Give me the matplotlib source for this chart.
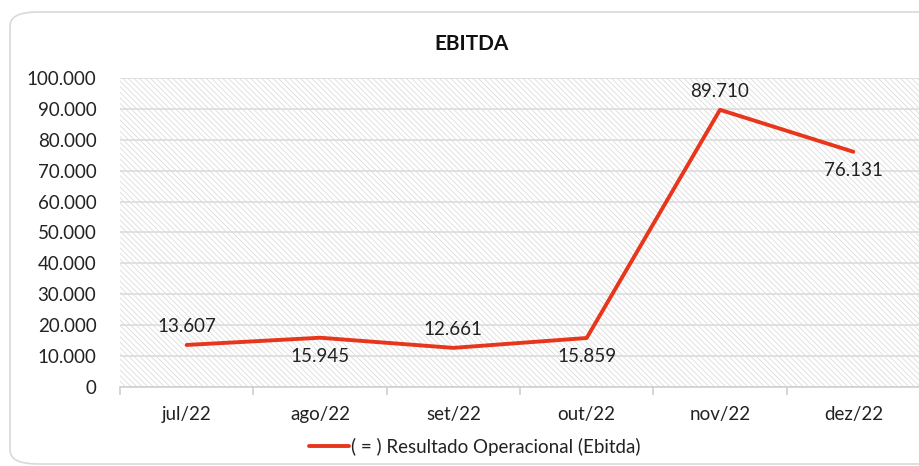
import matplotlib
matplotlib.use("Agg")
import matplotlib.pyplot as plt
from matplotlib.patches import FancyBboxPatch, Rectangle
from matplotlib.ticker import FuncFormatter, FixedLocator

months = ["jul/22", "ago/22", "set/22", "out/22", "nov/22", "dez/22"]
ebitda = [13607, 15945, 12661, 15859, 89710, 76131]
label_pos = ["above", "below", "above", "below", "above", "below"]
series_name = "( = ) Resultado Operacional (Ebitda)"

plt.rcParams['font.family'] = ['Lato', 'DejaVu Sans']
plt.rcParams['hatch.linewidth'] = 0.5

def br(v, pos=None):
    return f"{v:,.0f}".replace(",", ".")

fig = plt.figure(figsize=(9.2, 4.66), dpi=100)

# chart border
fig.patches.append(FancyBboxPatch((10 / 920, 2 / 466), 1.2, 452 / 466,
                                  boxstyle="round,pad=0,rounding_size=0.03",
                                  transform=fig.transFigure, facecolor="none",
                                  edgecolor="#d9d9d9", linewidth=1.2, zorder=-1))

ax = fig.add_axes([120 / 920, 79 / 466, 800 / 920, 309 / 466])
ax.set_facecolor("none")
ax.add_patch(Rectangle((0, 0), 1, 1, transform=ax.transAxes, facecolor="white",
                       edgecolor="#d6d6d6", hatch="\\" * 6, linewidth=0, zorder=0))

x = list(range(len(months)))
ax.plot(x, ebitda, color="#e8361c", linewidth=2.8, solid_capstyle="round", zorder=3,
        label=series_name)

for xi, v, p in zip(x, ebitda, label_pos):
    dy = 18 if p == "above" else -19
    ax.annotate(br(v), (xi, v), xytext=(0, dy), textcoords="offset pixels",
                ha="center", va="center", fontsize=13.5, color="#222222", zorder=4)

ax.set_xlim(-0.5, len(months) - 0.5)
ax.set_ylim(0, 100000)
ax.set_yticks(range(0, 100001, 10000))
ax.yaxis.set_major_formatter(FuncFormatter(br))
ax.set_xticks(x)
ax.set_xticklabels(months)
ax.xaxis.set_minor_locator(FixedLocator([i - 0.5 for i in range(len(months) + 1)]))
ax.grid(axis="y", color="#dcdcdc", linewidth=1.2, zorder=1)
ax.set_axisbelow(True)

for s in ["top", "right", "left"]:
    ax.spines[s].set_visible(False)
ax.spines["bottom"].set_color("#d0d0d0")
ax.spines["bottom"].set_linewidth(1.2)

ax.tick_params(axis="y", length=0, pad=17, labelsize=13.5, labelcolor="#222222")
ax.tick_params(axis="x", which="major", length=0, pad=14, labelsize=13.5, labelcolor="#222222")
ax.tick_params(axis="x", which="minor", length=6, color="#d0d0d0", width=1.2)

fig.text(472 / 920, 1 - 44 / 466, "EBITDA", ha="center", va="center",
         fontsize=15, fontweight="bold", color="#111111")

leg = fig.legend(loc="center", bbox_to_anchor=(475 / 920, 1 - 447 / 466), frameon=False,
                 fontsize=13.5, handlelength=2.1, handletextpad=0.15)
for t in leg.get_texts():
    t.set_color("#222222")

fig.savefig("out.png", dpi=100)
